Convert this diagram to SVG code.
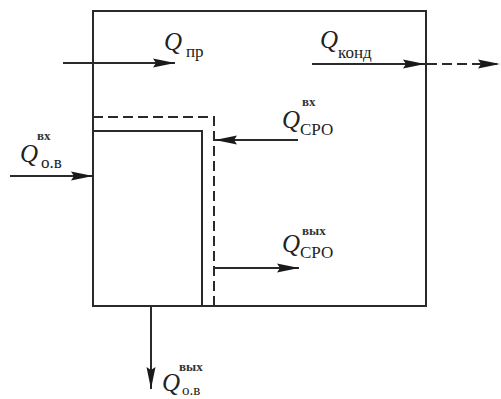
<svg xmlns="http://www.w3.org/2000/svg" width="501" height="399" viewBox="0 0 501 399">
<defs>
<marker id="ah" viewBox="0 0 22 10" refX="22" refY="5" markerWidth="22" markerHeight="10" markerUnits="userSpaceOnUse" orient="auto">
<path d="M0,0.5 L22,5 L0,9.5 L3,5 Z" fill="#1a1a1a"/>
</marker>
<style>
.ln{stroke:#2a2a2a;stroke-width:2;fill:none}
.ds{stroke:#2a2a2a;stroke-width:2;fill:none;stroke-dasharray:10,5}
.q{font-family:"Liberation Serif",serif;font-style:italic;font-size:25px;fill:#222}
.sb{font-family:"Liberation Serif",serif;font-size:17px;fill:#222}
.sp{font-family:"Liberation Serif",serif;font-size:13px;font-weight:bold;fill:#333}
</style>
</defs>
<rect width="501" height="399" fill="#fff"/>
<g id="chamber">
<rect class="ln" x="93" y="11" width="333" height="295"/>
</g>
<g id="sro">
<polyline class="ds" points="93,117 214,117 214,306"/>
</g>
<g id="ov">
<polyline class="ln" points="93,131 202,131 202,306"/>
</g>
<g id="connectors">
<line class="ln" x1="63" y1="63" x2="175" y2="63" marker-end="url(#ah)"/>
<line class="ln" x1="312" y1="64" x2="425" y2="64" marker-end="url(#ah)"/>
<line class="ds" x1="427" y1="64" x2="500" y2="64" marker-end="url(#ah)"/>
<line class="ln" x1="298" y1="140" x2="215" y2="140" marker-end="url(#ah)"/>
<line class="ln" x1="10" y1="176" x2="93" y2="176" marker-end="url(#ah)"/>
<line class="ln" x1="215" y1="268" x2="299" y2="268" marker-end="url(#ah)"/>
<line class="ln" x1="151" y1="306" x2="151" y2="389" marker-end="url(#ah)"/>
</g>
<g id="labels">
<text class="q" x="164" y="50">Q</text><text class="sb" x="186" y="57">пр</text>
<text class="q" x="320" y="48">Q</text><text class="sb" x="338" y="58">конд</text>
<text class="sp" x="302" y="106">вх</text><text class="q" x="282" y="128">Q</text><text class="sb" x="300" y="135">СРО</text>
<text class="sp" x="37" y="140">вх</text><text class="q" x="20" y="162">Q</text><text class="sb" x="41" y="168">о.в</text>
<text class="sp" x="302" y="235">вых</text><text class="q" x="282" y="252">Q</text><text class="sb" x="300" y="258">СРО</text>
<text class="sp" x="179" y="371">вых</text><text class="q" x="162" y="391">Q</text><text class="sb" x="182" y="395" style="font-size:15px">о.в</text>
</g>
</svg>
